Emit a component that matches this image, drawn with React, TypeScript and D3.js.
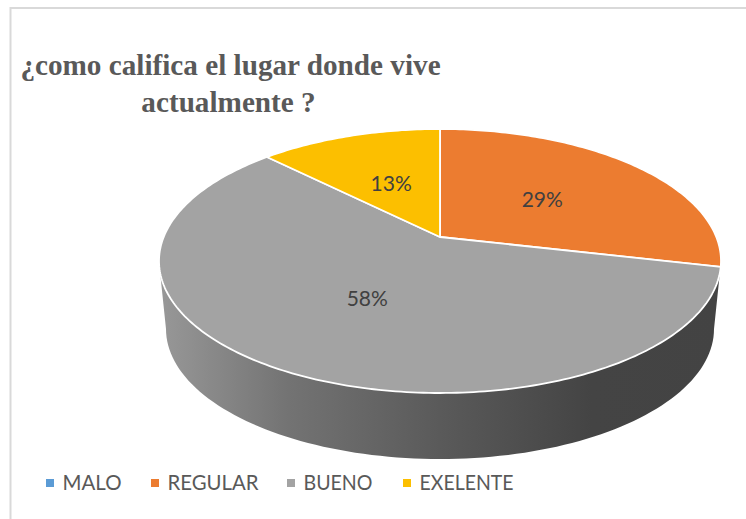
import React from "react";
import * as d3 from "d3";

const categories = ["MALO", "REGULAR", "BUENO", "EXELENTE"];
const seriesValues = [0, 28.6, 58.9, 12.5];
const sliceLabels = ["0%", "29%", "58%", "13%"];
const colors = ["#5B9BD5", "#EC7C30", "#A3A3A3", "#FCBF00"];
const titleLines = ["¿como califica el lugar donde vive", "actualmente ?"];
const legendSwatchX = [46, 151, 287, 403];
const legendTextWidth = [59, 91, 69, 94];
const sideGradientStops: [number, string][] = [
  [0, "#989898"],
  [0.23, "#737373"],
  [0.5, "#5a5a5a"],
  [0.77, "#444444"],
  [1, "#434343"],
];

// Perspective disc: the apex sits above the centre of the visible ellipse.
const apexX = 440;
const apexY = 237;
const topReach = 108;
const bottomReach = 156;
const k = (bottomReach - topReach) / (bottomReach + topReach);
const scaleY = bottomReach * (1 - k);
const outlineRx = 281;
const scaleX = outlineRx * Math.sqrt(1 - k * k);

function project(theta: number, r: number): [number, number] {
  const u = Math.sin(theta) * r;
  const v = -Math.cos(theta) * r;
  const d = 1 - k * v;
  return [apexX + (scaleX * u) / d, apexY + (scaleY * v) / d];
}

const line = d3.line<[number, number]>();

function slicePath(a0: number, a1: number) {
  const n = Math.max(2, Math.ceil((a1 - a0) * 60));
  const scale = d3.scaleLinear().domain([0, n]).range([a0, a1]);
  const pts = d3.range(n + 1).map((i) => project(scale(i), 1));
  return line([[apexX, apexY], ...pts, [apexX, apexY]]) + "Z";
}

const arcs = d3
  .pie<number>()
  .sort(null)
  .value((d) => d)(seriesValues);

// Lower rim of the extruded side
const rimCx = 440;
const rimCy = 329;
const rimRx = 274;
const rimRy = 130;
const topMidY = 262;
const sideScale = d3.scaleLinear().domain([0, 100]).range([0, Math.PI]);
const rimPts = d3.range(101).map((i): [number, number] => [
  rimCx + rimRx * Math.cos(sideScale(i)),
  rimCy + rimRy * Math.sin(sideScale(i)),
]);
const sidePath =
  line([[apexX + outlineRx, topMidY], ...rimPts, [apexX - outlineRx, topMidY]]) + "Z";

export default function App() {
  return (
    <svg
      width={746}
      height={519}
      style={{ position: "fixed", left: 0, top: 0, display: "block", background: "#fff" }}
    >
      <defs>
        <linearGradient
          id="side"
          gradientUnits="userSpaceOnUse"
          x1={apexX - outlineRx}
          x2={apexX + outlineRx}
          y1={0}
          y2={0}
        >
          {sideGradientStops.map(([o, c]) => (
            <stop key={o} offset={o} stopColor={c} />
          ))}
        </linearGradient>
      </defs>
      <path d="M10.5,519 V8 H746" fill="none" stroke="#d9d9d9" strokeWidth={2} />
      <g
        fontFamily="'Liberation Serif', serif"
        fontWeight="bold"
        fontSize={29.2}
        fill="#595959"
        textAnchor="middle"
      >
        {titleLines.map((t, i) => (
          <text key={t} x={i === 0 ? 230.5 : 228.5} y={75 + i * 36.5}>
            {t}
          </text>
        ))}
      </g>
      <path d={sidePath} fill="url(#side)" />
      {arcs.map((a, i) =>
        a.value > 0 ? (
          <path
            key={categories[i]}
            d={slicePath(a.startAngle, a.endAngle)}
            fill={colors[i]}
            stroke="#fff"
            strokeWidth={1.8}
            strokeLinejoin="round"
          />
        ) : null
      )}
      <g fontFamily="Lato, sans-serif" fontSize={21} fill="#404040" textAnchor="middle">
        {arcs.map((a, i) => {
          if (a.value <= 0) return null;
          const [x, y] = project((a.startAngle + a.endAngle) / 2, 0.5);
          return (
            <text key={categories[i]} x={x} y={y} dy="0.38em">
              {sliceLabels[i]}
            </text>
          );
        })}
      </g>
      <g fontFamily="Lato, sans-serif" fontSize={21.5} fill="#595959">
        {categories.map((c, i) => (
          <g key={c}>
            <rect x={legendSwatchX[i]} y={479} width={8} height={8} fill={colors[i]} />
            <text
              x={legendSwatchX[i] + 16.5}
              y={490}
              textLength={legendTextWidth[i]}
              lengthAdjust="spacingAndGlyphs"
            >
              {c}
            </text>
          </g>
        ))}
      </g>
    </svg>
  );
}
